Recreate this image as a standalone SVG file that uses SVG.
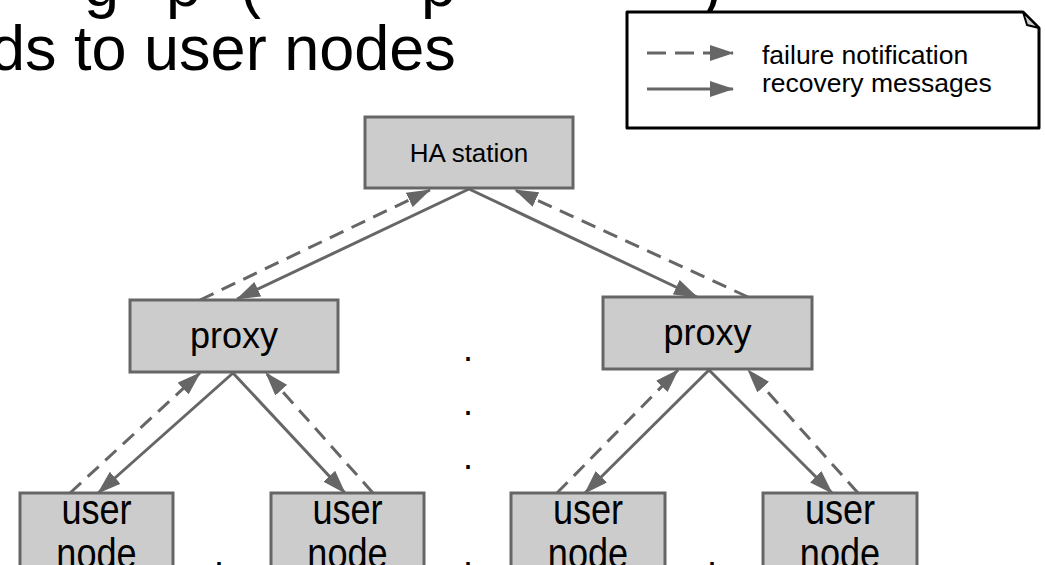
<svg xmlns="http://www.w3.org/2000/svg" width="1045" height="565" viewBox="0 0 1045 565">
<defs>
<style>
.node{fill:#cccccc;stroke:#666666;stroke-width:3}
.t{font-family:"Liberation Sans",Arial,sans-serif;fill:#000}
.c{stroke:#666666;stroke-width:3;fill:none}
.d{stroke-dasharray:15 9}
.ld{stroke-dasharray:19 9}
</style>
<marker id="ah" markerUnits="userSpaceOnUse" markerWidth="24" markerHeight="16" refX="23" refY="8" orient="auto">
<path d="M0,0 L24,8 L0,16 z" fill="#666666"/>
</marker>
</defs>
<rect width="1045" height="565" fill="#ffffff"/>

<g id="title">
<text class="t" font-size="63" y="6"><tspan x="84">g</tspan><tspan x="166">p</tspan><tspan x="240">(</tspan><tspan x="421">p</tspan><tspan x="701">)</tspan></text>
<text class="t" font-size="63" x="-10" y="70">ds to user nodes</text>
</g>

<g id="legend">
<path d="M627,12 H1023 L1039,28 V128 H627 Z" fill="#ffffff" stroke="#000" stroke-width="3" stroke-linejoin="round"/>
<path d="M1023,12 L1027,25 L1039,28 Z" fill="#cccccc" stroke="#000" stroke-width="2" stroke-linejoin="round"/>
<line class="c ld" x1="647" y1="53" x2="733" y2="53" marker-end="url(#ah)"/>
<line class="c" x1="647" y1="89" x2="733" y2="89" marker-end="url(#ah)"/>
<text class="t" font-size="26.5" x="762" y="64">failure notification</text>
<text class="t" font-size="26.5" x="762" y="92">recovery messages</text>
</g>

<g id="connectors">
<line class="c" x1="469" y1="189" x2="237" y2="299" marker-end="url(#ah)"/>
<line class="c d" x1="200" y1="300" x2="430" y2="190" marker-end="url(#ah)"/>
<line class="c" x1="469" y1="189" x2="697" y2="297" marker-end="url(#ah)"/>
<line class="c d" x1="748" y1="297" x2="515" y2="190" marker-end="url(#ah)"/>
<line class="c" x1="233" y1="373" x2="98" y2="493" marker-end="url(#ah)"/>
<line class="c d" x1="70" y1="493" x2="200" y2="373" marker-end="url(#ah)"/>
<line class="c" x1="233" y1="373" x2="345" y2="493" marker-end="url(#ah)"/>
<line class="c d" x1="373" y1="493" x2="266" y2="373" marker-end="url(#ah)"/>
<line class="c" x1="709" y1="370" x2="585" y2="493" marker-end="url(#ah)"/>
<line class="c d" x1="557" y1="493" x2="678" y2="370" marker-end="url(#ah)"/>
<line class="c" x1="709" y1="370" x2="832" y2="493" marker-end="url(#ah)"/>
<line class="c d" x1="858" y1="493" x2="748" y2="370" marker-end="url(#ah)"/>
</g>

<g id="ha">
<rect class="node" x="365" y="117" width="208" height="71"/>
<text class="t" font-size="26" x="469" y="162" text-anchor="middle">HA station</text>
</g>
<g id="proxy1">
<rect class="node" x="130" y="300" width="208" height="72"/>
<text class="t" font-size="36" x="234" y="348" text-anchor="middle">proxy</text>
</g>
<g id="proxy2">
<rect class="node" x="603" y="297" width="209" height="72"/>
<text class="t" font-size="36" x="707.5" y="345" text-anchor="middle">proxy</text>
</g>
<g id="user1">
<rect class="node" x="20" y="493" width="153" height="80"/>
<text class="t" font-size="42" transform="translate(96.5 0) scale(0.86 1)" text-anchor="middle"><tspan x="0" y="524">user</tspan><tspan x="0" y="568">node</tspan></text>
</g>
<g id="user2">
<rect class="node" x="271" y="493" width="153" height="80"/>
<text class="t" font-size="42" transform="translate(347.5 0) scale(0.86 1)" text-anchor="middle"><tspan x="0" y="524">user</tspan><tspan x="0" y="568">node</tspan></text>
</g>
<g id="user3">
<rect class="node" x="511" y="493" width="154" height="80"/>
<text class="t" font-size="42" transform="translate(588 0) scale(0.86 1)" text-anchor="middle"><tspan x="0" y="524">user</tspan><tspan x="0" y="568">node</tspan></text>
</g>
<g id="user4">
<rect class="node" x="763" y="493" width="154" height="80"/>
<text class="t" font-size="42" transform="translate(840 0) scale(0.86 1)" text-anchor="middle"><tspan x="0" y="524">user</tspan><tspan x="0" y="568">node</tspan></text>
</g>

<g id="dots">
<text class="t" font-size="36" text-anchor="middle"><tspan x="468" y="361">.</tspan><tspan x="468" y="415">.</tspan><tspan x="468" y="469">.</tspan><tspan x="219" y="566">.</tspan><tspan x="468" y="566">.</tspan><tspan x="712" y="566">.</tspan></text>
</g>
</svg>
